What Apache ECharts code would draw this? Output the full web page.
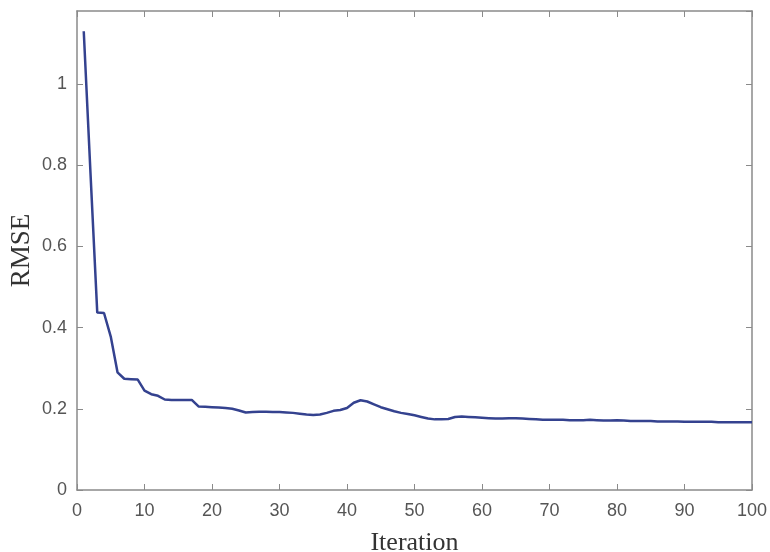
<!DOCTYPE html>
<html>
<head>
<meta charset="utf-8">
<script src="https://cdn.jsdelivr.net/npm/echarts@6/dist/echarts.min.js"></script>
<style>
  html, body { margin: 0; padding: 0; background: #fff; }
  #main { width: 770px; height: 552px; }
</style>
</head>
<body>
<div id="main"></div>
<script>
// RMSE per iteration
let iterations = [], rmseValues = [
  1.13, 0.78, 0.437, 0.436, 0.378, 0.29, 0.274, 0.273, 0.272, 0.245,
  0.236, 0.232, 0.223, 0.222, 0.222, 0.222, 0.222, 0.206, 0.205, 0.204,
  0.203, 0.202, 0.200, 0.196, 0.191, 0.192, 0.193, 0.193, 0.192, 0.192,
  0.191, 0.190, 0.188, 0.186, 0.185, 0.186, 0.190, 0.195, 0.197, 0.202,
  0.215, 0.221, 0.218, 0.211, 0.204, 0.199, 0.194, 0.190, 0.187, 0.184,
  0.180, 0.176, 0.174, 0.174, 0.175, 0.180, 0.181, 0.180, 0.179, 0.178,
  0.177, 0.176, 0.176, 0.177, 0.177, 0.176, 0.175, 0.174, 0.173, 0.173,
  0.173, 0.173, 0.172, 0.172, 0.172, 0.173, 0.172, 0.171, 0.171, 0.172,
  0.171, 0.170, 0.170, 0.170, 0.170, 0.169, 0.169, 0.169, 0.169, 0.168,
  0.168, 0.168, 0.168, 0.168, 0.167, 0.167, 0.167, 0.167, 0.167, 0.167
];
for (let i = 0; i < rmseValues.length; i++) iterations.push(i + 1);
let xTicks = [0, 100, 10], yTicks = [0, 1.18, 0.2];

function createChart() {
  let myChart = echarts.init(document.getElementById('main'));
  let axisColor = '#8a8a8a';
  let labelStyle = { color: '#555', fontSize: 18, fontFamily: 'Liberation Sans' };
  let lineCfg = { onZero: false, lineStyle: { color: axisColor, width: 1.5 } };
  let tickCfg = { inside: true, length: 6, lineStyle: { color: axisColor } };
  let option = {
    animation: false,
    grid: { left: 77, right: 18, top: 11, bottom: 62, containLabel: false, outerBoundsMode: 'none' },
    xAxis: [
      {
        type: 'value',
        min: xTicks[0], max: xTicks[1], interval: xTicks[2],
        name: 'Iteration',
        nameLocation: 'middle',
        nameGap: 40,
        nameMoveOverlap: false,
        nameTextStyle: { color: '#333', fontSize: 26, fontFamily: 'Liberation Serif' },
        axisLine: lineCfg,
        axisTick: tickCfg,
        axisLabel: Object.assign({ margin: 12 }, labelStyle),
        splitLine: { show: false }
      },
      {
        type: 'value', position: 'top',
        min: xTicks[0], max: xTicks[1], interval: xTicks[2],
        axisLine: lineCfg,
        axisTick: tickCfg,
        axisLabel: { show: false },
        splitLine: { show: false }
      }
    ],
    yAxis: [
      {
        type: 'value',
        min: yTicks[0], max: yTicks[1], interval: yTicks[2],
        name: 'RMSE',
        nameLocation: 'middle',
        nameGap: 42,
        nameMoveOverlap: false,
        nameRotate: 90,
        nameTextStyle: { color: '#333', fontSize: 27, fontFamily: 'Liberation Serif' },
        axisLine: lineCfg,
        axisTick: tickCfg,
        axisLabel: Object.assign({ margin: 10, showMaxLabel: false,
          formatter: function (v) { return String(Math.round(v * 10) / 10); } }, labelStyle),
        splitLine: { show: false }
      },
      {
        type: 'value', position: 'right',
        min: yTicks[0], max: yTicks[1], interval: yTicks[2],
        axisLine: lineCfg,
        axisTick: tickCfg,
        axisLabel: { show: false },
        splitLine: { show: false }
      }
    ],
    series: [
      {
        type: 'line',
        data: iterations.map(function (it, i) { return [it, rmseValues[i]]; }),
        showSymbol: false,
        lineStyle: { color: '#34428f', width: 2.5 },
        itemStyle: { color: '#34428f' }
      }
    ]
  };
  myChart.setOption(option);
}

createChart();
</script>
</body>
</html>
